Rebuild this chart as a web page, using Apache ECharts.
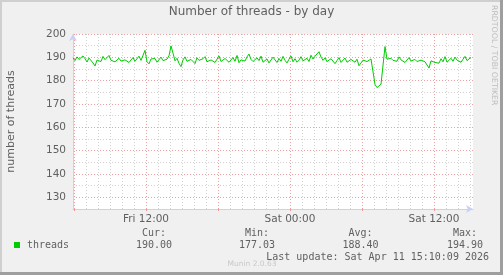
<!DOCTYPE html>
<html><head><meta charset="utf-8">
<script src="https://cdn.jsdelivr.net/npm/echarts@6/dist/echarts.min.js"></script>
<style>html,body{margin:0;padding:0;background:#f0f0f0}#c{width:503px;height:275px}</style>
</head><body><div id="c"></div>
<script>
const TITLE = 'Number of threads - by day';
const Y_NAME = 'number of threads';
const SERIES_NAME = 'threads';
const START_HOUR = 5 + 55 / 60;   // Fri 05:55 (hours since Fri 00:00)
const STEP_HOURS = 10 / 60;       // one sample every 10 minutes
const X_MIN = START_HOUR;
const X_MAX = 39.25;              // Sat 15:15
const THREADS = [
  189.8, 188.6, 190.2, 189.1, 188.3, 190.6, 189.4, 188.0, 189.7, 188.9, 187.6, 186.3, 188.8, 189.5, 188.2, 190.4, 189.0, 188.5, 190.8, 188.7,
  189.3, 188.1, 187.9, 189.6, 188.4, 187.7, 188.9, 188.2, 187.8, 188.6, 189.9, 188.3, 187.5, 190.5, 188.7, 189.4, 193.0, 188.1, 187.2, 189.3,
  188.8, 189.5, 187.9, 188.4, 190.1, 188.6, 187.8, 189.2, 190.7, 194.9, 191.8, 188.5, 189.6, 187.4, 186.0, 188.9, 190.2, 188.3, 187.6, 189.1,
  188.2, 187.3, 189.8, 188.7, 187.9, 189.4, 190.3, 188.1, 187.6, 188.9, 189.7, 187.8, 188.5, 190.6, 188.2, 187.4, 189.5, 188.8, 187.9, 188.6,
  189.9, 188.3, 190.8, 187.7, 188.9, 189.6, 188.4, 190.2, 191.4, 189.1, 188.2, 187.5, 189.8, 188.6, 190.5, 187.9, 188.7, 189.3, 187.6, 188.4,
  190.1, 188.9, 187.8, 189.5, 188.3, 190.4, 188.7, 187.6, 189.2, 190.6, 188.1, 189.4, 187.9, 188.8, 190.3, 188.5, 187.7, 189.6, 188.2, 190.9,
  189.3, 190.5, 191.2, 192.4, 190.1, 188.7, 189.8, 188.2, 187.6, 189.4, 188.9, 187.3, 188.6, 189.9, 187.8, 188.4, 189.7, 187.9, 188.3, 189.1,
  188.6, 187.9, 189.2, 186.4, 187.1, 188.8, 189.5, 188.2, 187.7, 189.3, 188.9, 178.4, 177.03, 177.6, 178.5, 177.9, 194.6, 189.2, 188.4, 189.6,
  188.7, 189.4, 188.3, 190.2, 188.9, 189.5, 187.8, 188.6, 189.9, 188.4, 187.9, 189.1, 188.2, 187.6, 188.8, 189.3, 188.1, 187.4, 185.4, 188.5,
  189.2, 187.8, 188.6, 187.5, 189.4, 188.1, 190.3, 187.9, 188.7, 189.6, 188.3, 190.1, 188.8, 189.5, 187.9, 189.2, 190.4, 188.6, 189.3, 190.0
];
const X_LABEL_VALUES = [12, 24, 36];
const X_LABEL_TEXTS = ['Fri 12:00', 'Sat 00:00', 'Sat 12:00'];
const X_MAJOR = [6, 12, 18, 24, 30, 36];
const X_MINOR = [6,7,8,9,10,11,12,13,14,15,16,17,18,19,20,21,22,23,24,25,26,27,28,29,30,31,32,33,34,35,36,37,38,39];
const Y_MIN = 125, Y_MAX = 200;
const Y_LABELS = [130, 140, 150, 160, 170, 180, 190, 200];
const Y_MINOR = [130, 135, 140, 145, 150, 155, 160, 165, 170, 175, 180, 185, 190, 195, 200];
const STAT_HEADERS = ['Cur:', 'Min:', 'Avg:', 'Max:'];
const STAT_VALUES = ['190.00', '177.03', '188.40', '194.90'];
const LAST_UPDATE = 'Last update: Sat Apr 11 15:10:09 2026';
const CREDIT = 'Munin 2.0.63';
const SIDE_TEXT = 'RRDTOOL / TOBI OETIKER';

const FONT_COLOR = '#606060';
const AXIS_COLOR = '#c8d0f6';
const MONO = '"DejaVu Sans Mono", monospace';
const SANS = '"DejaVu Sans", sans-serif';

const seriesData = THREADS.map((v, i) => [START_HOUR + i * STEP_HOURS, v]);
const STAT_X = [154, 257, 360.5, 465];

const graphics = [
  {type: 'rect', shape: {x: 0, y: 0, width: 503, height: 2}, style: {fill: '#cfcfcf'}, silent: true},
  {type: 'rect', shape: {x: 0, y: 0, width: 2, height: 275}, style: {fill: '#cfcfcf'}, silent: true},
  {type: 'rect', shape: {x: 500, y: 0, width: 3, height: 275}, style: {fill: '#9e9e9e'}, silent: true},
  {type: 'rect', shape: {x: 0, y: 272, width: 503, height: 3}, style: {fill: '#9e9e9e'}, silent: true},
  {type: 'text', x: 494, y: 5, rotation: -Math.PI / 2,
   style: {text: SIDE_TEXT, font: '7.8px ' + SANS, fill: '#bdbdbd', textAlign: 'left', textVerticalAlign: 'middle'}},
  {type: 'text', x: 489, y: 257.5,
   style: {text: LAST_UPDATE, font: '10px ' + MONO, fill: FONT_COLOR, textAlign: 'right', textVerticalAlign: 'middle'}},
  {type: 'text', x: 252, y: 264.5,
   style: {text: CREDIT, font: '7.5px ' + SANS, fill: '#c8c8c8', textAlign: 'center', textVerticalAlign: 'middle'}}
];
STAT_HEADERS.forEach((h, i) => {
  graphics.push({type: 'text', x: STAT_X[i], y: 233.5,
    style: {text: h, font: '10px ' + MONO, fill: FONT_COLOR, textAlign: 'center', textVerticalAlign: 'middle'}});
  graphics.push({type: 'text', x: STAT_X[i], y: 245.5,
    style: {text: STAT_VALUES[i], font: '10px ' + MONO, fill: FONT_COLOR, textAlign: 'center', textVerticalAlign: 'middle'}});
});

const chart = echarts.init(document.getElementById('c'), null, {renderer: 'canvas', width: 503, height: 275});
chart.setOption({
  backgroundColor: '#f0f0f0',
  animation: false,
  title: {text: TITLE, left: 'center', top: 6, padding: 0,
    textStyle: {fontFamily: SANS, fontSize: 12, fontWeight: 'normal', color: FONT_COLOR}},
  legend: {left: 14, top: 240, padding: 0, icon: 'rect', itemWidth: 6, itemHeight: 6,
    data: [SERIES_NAME],
    textStyle: {fontFamily: MONO, fontSize: 10, color: FONT_COLOR, padding: [0, 0, 0, 2]}},
  grid: {left: 73, top: 34, width: 400, height: 175, show: true, backgroundColor: '#ffffff', borderWidth: 0,
    containLabel: false, outerBoundsMode: 'none'},
  xAxis: [
    {type: 'value', min: X_MIN, max: X_MAX, position: 'bottom',
     axisLine: {show: false}, axisLabel: {show: false},
     axisTick: {show: false, customValues: X_MINOR},
     splitLine: {show: true, lineStyle: {color: '#d0d0d0', width: 1, type: [1, 2]}}},
    {type: 'value', min: X_MIN, max: X_MAX, position: 'bottom',
     axisLine: {show: true, lineStyle: {color: AXIS_COLOR, width: 1}, symbol: ['none', 'arrow'], symbolSize: [6, 7]},
     axisTick: {show: true, length: 2, lineStyle: {color: '#e89898'}, customValues: X_MAJOR},
     axisLabel: {show: true, customValues: X_LABEL_VALUES, margin: 5,
       fontFamily: SANS, fontSize: 10.5, color: FONT_COLOR,
       formatter: v => { const k = X_LABEL_VALUES.indexOf(Math.round(v)); return k >= 0 ? X_LABEL_TEXTS[k] : ''; }},
     splitLine: {show: true, lineStyle: {color: '#eea0a0', width: 1, type: [1, 2]}}}
  ],
  yAxis: [
    {type: 'value', min: Y_MIN, max: Y_MAX, position: 'left',
     axisLine: {show: false}, axisLabel: {show: false},
     axisTick: {show: false, customValues: Y_MINOR},
     splitLine: {show: true, lineStyle: {color: '#d0d0d0', width: 1, type: [1, 2]}}},
    {type: 'value', min: Y_MIN, max: Y_MAX, position: 'left',
     name: Y_NAME, nameLocation: 'middle', nameGap: 56, nameRotate: 90,
     nameTextStyle: {fontFamily: SANS, fontSize: 11, color: FONT_COLOR},
     axisLine: {show: true, lineStyle: {color: AXIS_COLOR, width: 1}, symbol: ['none', 'arrow'], symbolSize: [6, 7]},
     axisTick: {show: false, customValues: Y_LABELS},
     axisLabel: {show: true, customValues: Y_LABELS, margin: 7,
       fontFamily: SANS, fontSize: 10.5, color: FONT_COLOR},
     splitLine: {show: true, lineStyle: {color: '#eea0a0', width: 1, type: [1, 2]}}}
  ],
  series: [{
    name: SERIES_NAME, type: 'line', xAxisIndex: 1, yAxisIndex: 1,
    data: seriesData, showSymbol: false, symbol: 'none', z: 5,
    itemStyle: {color: '#00cc00'},
    lineStyle: {color: '#00cc00', width: 1}
  }],
  graphic: graphics
});
</script></body></html>
